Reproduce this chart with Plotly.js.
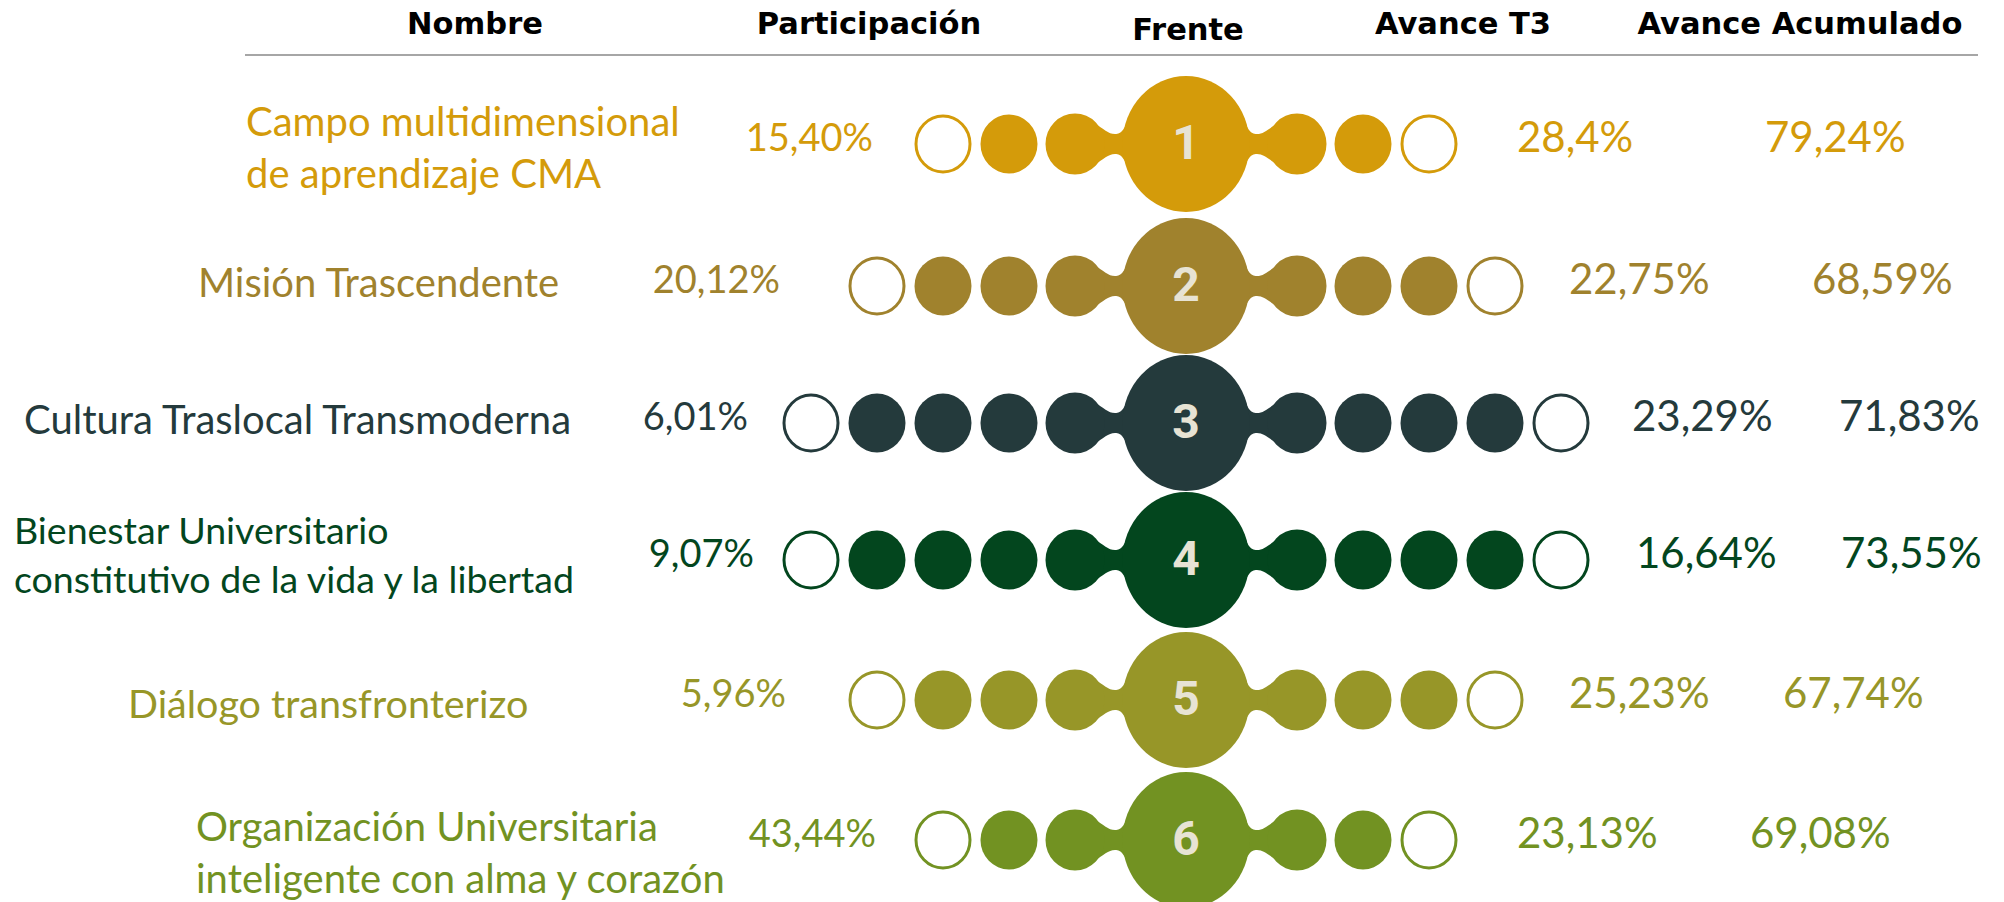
<!DOCTYPE html>
<html><head><meta charset="utf-8">
<script src="https://cdn.plot.ly/plotly-3.0.1.min.js"></script>
<style>html,body{margin:0;padding:0;background:#fff;overflow:hidden;} #chart{width:2004px;height:902px;}</style>
</head><body><div id="chart"></div>
<script>
// ---- data ----
const frentes = [1, 2, 3, 4, 5, 6];
const nombres = [
  "Campo multidimensional<br>de aprendizaje CMA",
  "Misión Trascendente",
  "Cultura Traslocal Transmoderna",
  "Bienestar Universitario<br>constitutivo de la vida y la libertad",
  "Diálogo transfronterizo",
  "Organización Universitaria<br>inteligente con alma y corazón"
];
const participacion = ["15,40%", "20,12%", "6,01%", "9,07%", "5,96%", "43,44%"];
const avanceT3 = ["28,4%", "22,75%", "23,29%", "16,64%", "25,23%", "23,13%"];
const avanceAcumulado = ["79,24%", "68,59%", "71,83%", "73,55%", "67,74%", "69,08%"];
const puntosPorLado = [3, 4, 5, 5, 4, 3];
const encabezados = ["Nombre", "Participación", "Frente", "Avance T3", "Avance Acumulado"];

// ---- styles / layout constants ----
const colores = ["#D49B0A", "#A0822D", "#243A3C", "#03461E", "#979628", "#729222"];
const rowY = [144, 286, 423, 560, 700, 840];
const CX = 1186;
const nameX = [246, 198, 24, 14, 128, 196];
const nameY = [152, 287, 424, 559, 708, 857];
const nameSize = [40, 40, 40, 37.5, 39.5, 40];
const partX = [873, 780, 748, 754, 786, 876];
const t3X = [1517, 1569, 1632, 1636, 1569, 1517];
const acumX = [1765, 1812, 1839, 1841, 1783, 1750];
const headX = [475, 869, 1188, 1463, 1800];
const headY = [26, 26, 32, 26, 26];

const BIG_RX = 63.5, BIG_RY = 68;
const SM_RX = 28.5, SM_RY = 29.5;
const FIRST_OFF = 111, STEP = 66;

const shapes = [];
shapes.push({type: 'line', xref: 'x', yref: 'y', x0: 245, x1: 1978, y0: 55, y1: 55,
  line: {color: '#A6A6A6', width: 2}, layer: 'below'});

function neckPath(cx, cy, s) {
  const p = (dx, dy) => (cx + s * dx).toFixed(1) + ',' + (cy + dy).toFixed(1);
  return 'M ' + p(54, -33) +
    ' C ' + p(62, -14) + ' ' + p(64, -10) + ' ' + p(71, -10) +
    ' C ' + p(78, -10) + ' ' + p(82, -15) + ' ' + p(92, -21) +
    ' L ' + p(92, 21) +
    ' C ' + p(82, 15) + ' ' + p(78, 10) + ' ' + p(71, 10) +
    ' C ' + p(64, 10) + ' ' + p(62, 14) + ' ' + p(54, 33) + ' Z';
}

frentes.forEach((f, i) => {
  const cy = rowY[i], col = colores[i], n = puntosPorLado[i];
  [-1, 1].forEach(s => {
    shapes.push({type: 'path', xref: 'x', yref: 'y', path: neckPath(CX, cy, s),
      fillcolor: col, line: {width: 0}, layer: 'below'});
    for (let k = 0; k < n; k++) {
      const bx = CX + s * (FIRST_OFF + STEP * k);
      const hollow = (k === n - 1);
      const rx = hollow ? SM_RX - 1.5 : (k === 0 ? SM_RX + 1 : SM_RX);
      const ry = hollow ? SM_RY - 1.5 : (k === 0 ? SM_RY + 1 : SM_RY);
      shapes.push({type: 'circle', xref: 'x', yref: 'y',
        x0: bx - rx, x1: bx + rx, y0: cy - ry, y1: cy + ry,
        fillcolor: hollow ? 'rgba(255,255,255,0)' : col,
        line: {color: col, width: hollow ? 3 : 0}, layer: 'below'});
    }
  });
  shapes.push({type: 'circle', xref: 'x', yref: 'y',
    x0: CX - BIG_RX, x1: CX + BIG_RX, y0: cy - BIG_RY, y1: cy + BIG_RY,
    fillcolor: col, line: {width: 0}, layer: 'below'});
});

const bodyFont = 'Lato, "Open Sans", sans-serif';
const traces = [
  {x: headX, y: headY, text: encabezados, mode: 'text', textposition: 'middle center',
   textfont: {family: '"DejaVu Sans", sans-serif', size: 30.5, color: '#000', weight: 700}},
  {x: nameX, y: nameY, text: nombres, mode: 'text', textposition: 'middle right',
   textfont: {family: bodyFont, size: nameSize, color: colores}},
  {x: partX, y: rowY.map(v => v - 3), text: participacion, mode: 'text', textposition: 'middle left',
   textfont: {family: bodyFont, size: 38, color: colores}},
  {x: t3X, y: rowY.map(v => v - 3), text: avanceT3, mode: 'text', textposition: 'middle right',
   textfont: {family: bodyFont, size: 42, color: colores}},
  {x: acumX, y: rowY.map(v => v - 3), text: avanceAcumulado, mode: 'text', textposition: 'middle right',
   textfont: {family: bodyFont, size: 42, color: colores}},
  {x: frentes.map(() => CX), y: rowY.map(v => v + 3), text: frentes.map(String), mode: 'text',
   textposition: 'middle center',
   textfont: {family: 'Roboto, sans-serif', size: 48, color: '#E7E3D4', weight: 700}}
];

const layout = {
  width: 2004, height: 902,
  margin: {l: 0, r: 0, t: 0, b: 0},
  paper_bgcolor: '#ffffff', plot_bgcolor: '#ffffff',
  showlegend: false, hovermode: false,
  xaxis: {range: [0, 2004], visible: false, fixedrange: true},
  yaxis: {range: [902, 0], visible: false, fixedrange: true},
  shapes: shapes
};

Plotly.newPlot('chart', traces, layout, {staticPlot: true, displayModeBar: false});
</script>
</body></html>
